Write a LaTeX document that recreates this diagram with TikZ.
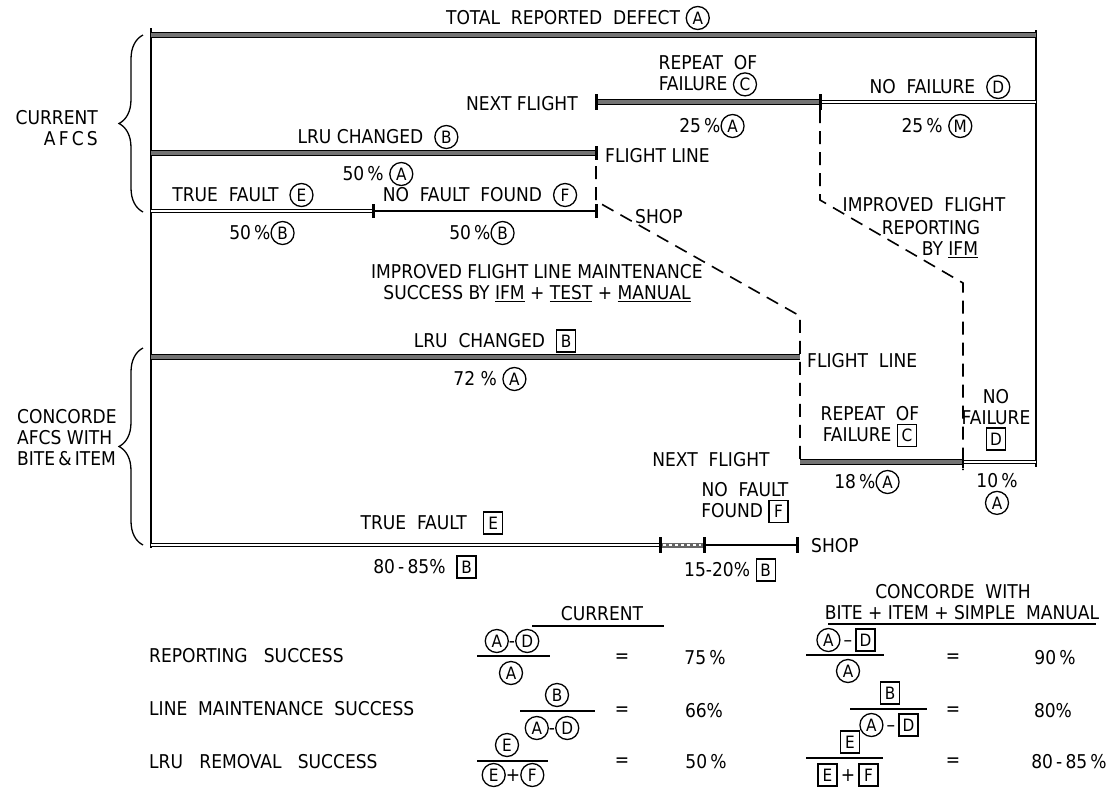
\documentclass[tikz,border=0pt]{standalone}
\usepackage{fontspec}
\setmainfont{DejaVu Sans Condensed}
\usetikzlibrary{decorations.pathreplacing}
\newcommand\cir[1]{\tikz[baseline=(X.base)]\node[draw,circle,line width=1.3pt,inner sep=0pt,minimum size=23pt,font=\fontsize{17}{17}\selectfont](X){#1};}
\newcommand\bx[1]{\tikz[baseline=(X.base)]\node[draw,rectangle,line width=1.3pt,inner sep=2pt,minimum height=22pt,minimum width=19pt,font=\fontsize{17}{17}\selectfont](X){#1};}
\tikzset{
  txt/.style={font=\fontsize{19}{21}\selectfont, inner sep=1pt, align=center},
  heavy/.style={draw=black, double=black!55, double distance=3.5pt, line width=1pt},
  hollow/.style={draw=black, double=white, double distance=2.5pt, line width=1.1pt},
  thinbar/.style={line width=1.3pt},
  tick/.style={line width=3pt},
  dashline/.style={line width=1.6pt, dash pattern=on 13pt off 8pt},
  frame/.style={line width=1.6pt},
  fracbar/.style={line width=1.3pt},
  bracestyle/.style={decorate,decoration={brace,amplitude=24pt,aspect=0.5},line width=1.3pt}
}
\begin{document}
\begin{tikzpicture}[x=1pt,y=-1pt]
\useasboundingbox (0,0) rectangle (1112,788);

% ---------- frame ----------
\coordinate (ftop) at (151,28);
\coordinate (fbot) at (151,548);
\coordinate (rtop) at (1036,30);
\coordinate (rbot) at (1036,467);
\draw[frame] (ftop) -- (fbot);
\draw[frame] (rtop) -- (rbot);

% ---------- top bar ----------
\node[txt] (total) at (578,18) {TOTAL~~REPORTED~~DEFECT~\cir{A}};
\coordinate (t1) at (151,35);
\coordinate (t2) at (1036,35);
\draw[heavy] (t1) -- (t2);

% ---------- current AFCS ----------
\draw[bracestyle] (143,212) -- (143,35);
\node[txt,align=right,anchor=east] (cur) at (99,128) {CURRENT\\A\,F\,C\,S};

\node[txt,anchor=east] (nf1) at (579,104) {NEXT~FLIGHT};
\node[txt] (rep1) at (708,76) {REPEAT~~OF\\FAILURE~\cir{C}};
\node[txt] (nof1) at (940,87) {NO~~FAILURE~~\cir{D}};
\coordinate (r1a) at (596,102);
\coordinate (r1b) at (820,102);
\coordinate (r1c) at (1036,102);
\draw[heavy] (r1a) -- (r1b);
\draw[hollow] (r1b) -- (r1c);
\draw[tick] (596,94) -- (596,110);
\draw[tick] (820,94) -- (820,110);
\node[txt] (p25a) at (712,126) {25\,\%\cir{A}};
\node[txt] (p25m) at (937,126) {25\,\%~\cir{M}};

\node[txt] (lru1) at (378,137) {LRU~CHANGED~~\cir{B}};
\coordinate (l1a) at (151,153);
\coordinate (l1b) at (596,153);
\draw[heavy] (l1a) -- (l1b);
\draw[tick] (596,146) -- (596,160);
\node[txt,anchor=west] (fl1) at (604,156) {FLIGHT~LINE};
\node[txt] (p50a) at (378,174) {50\,\%~\cir{A}};

\node[txt] (tf1) at (243,195) {TRUE~~FAULT~~\cir{E}};
\node[txt] (nff1) at (480,195) {NO~~FAULT~~FOUND~~\cir{F}};
\coordinate (e1a) at (151,211);
\coordinate (e1b) at (373,211);
\coordinate (e1c) at (596,211);
\draw[hollow] (e1a) -- (e1b);
\draw[thinbar] (e1b) -- (e1c);
\draw[tick] (373,204) -- (373,218);
\draw[tick] (596,204) -- (596,218);
\node[txt,anchor=west] (shop1) at (634,217) {SHOP};
\node[txt] (p50b1) at (262,233) {50\,\%\cir{B}};
\node[txt] (p50b2) at (482,233) {50\,\%\cir{B}};

% ---------- dashed transitions ----------
\coordinate (d1a) at (596,166);
\coordinate (d1b) at (596,201);
\coordinate (d1c) at (800,316);
\coordinate (d1d) at (800,462);
\draw[dashline] (d1a) -- (d1b) -- (d1c) -- (d1d);
\coordinate (d2a) at (820,110);
\coordinate (d2b) at (820,200);
\coordinate (d2c) at (963,283);
\coordinate (d2d) at (963,470);
\draw[dashline] (d2a) -- (d2b) -- (d2c) -- (d2d);

\node[txt] (ifr1) at (924,205) {IMPROVED~~FLIGHT};
\node[txt] (ifr2) at (931,228) {REPORTING};
\node[txt] (ifr3) at (950,250) {BY~\underline{IFM}};
\node[txt] (iflm) at (537,283) {IMPROVED~FLIGHT~LINE~MAINTENANCE\\SUCCESS~BY~\underline{IFM}~+~\underline{TEST}~+~\underline{MANUAL}};

% ---------- Concorde ----------
\draw[bracestyle] (143,545) -- (143,348);
\node[txt,align=left,anchor=west] (conc) at (16,438) {CONCORDE\\AFCS WITH\\BITE\,\&\,ITEM};

\node[txt] (lru2) at (495,341) {LRU~~CHANGED~~\bx{B}};
\coordinate (l2a) at (151,357);
\coordinate (l2b) at (800,357);
\draw[heavy] (l2a) -- (l2b);
\node[txt,anchor=west] (fl2) at (806,361) {FLIGHT~~LINE};
\node[txt] (p72) at (490,379) {72~\%~\cir{A}};

\node[txt] (rep2) at (870,427) {REPEAT~~OF\\FAILURE~\bx{C}};
\node[txt] (nof2) at (996,420) {NO\\FAILURE\\\bx{D}};
\node[txt] (nf2) at (711,460) {NEXT~~FLIGHT};
\coordinate (r2a) at (800,462);
\coordinate (r2b) at (963,462);
\coordinate (r2c) at (1036,462);
\draw[heavy] (r2a) -- (r2b);
\draw[hollow] (r2b) -- (r2c);
\draw[line width=2pt] (963,456) -- (963,468);
\node[txt] (p18) at (867,482) {18\,\%\cir{A}};
\node[txt] (p10) at (997,494) {10\,\%\\[1pt]\cir{A}};

\node[txt] (nff2) at (745,503) {NO~~FAULT\\FOUND~\bx{F}};
\node[txt] (tf2) at (432,523) {TRUE~~FAULT~~~\bx{E}};
\coordinate (e2a) at (151,545);
\coordinate (e2b) at (660,545);
\coordinate (e2c) at (704,545);
\coordinate (e2d) at (797,545);
\draw[hollow] (e2a) -- (e2b);
\draw[line width=5pt,black!60] (e2b) -- (e2c);
\draw[line width=1.2pt,white,dash pattern=on 3pt off 3pt] (663,545) -- (701,545);
\draw[thinbar] (e2c) -- (e2d);
\draw[tick] (660,537) -- (660,553);
\draw[tick] (704,537) -- (704,553);
\draw[tick] (797,537) -- (797,553);
\node[txt,anchor=west] (shop2) at (810,546) {SHOP};
\node[txt] (p80) at (425,567) {80\,-\,85\%~~\bx{B}};
\node[txt] (p15) at (730,570) {15-20\%~\bx{B}};

% ---------- table ----------
\node[txt] (hcur) at (602,614) {CURRENT};
\coordinate (hc1) at (532,626);
\coordinate (hc2) at (664,626);
\draw[line width=1.2pt] (hc1) -- (hc2);
\node[txt] (hcon1) at (953,592) {CONCORDE~~WITH};
\node[txt] (hcon2) at (962,613) {BITE~+~ITEM~+~SIMPLE~~MANUAL};
\coordinate (hk1) at (828,624);
\coordinate (hk2) at (1096,624);
\draw[line width=1.2pt] (hk1) -- (hk2);

\node[txt,anchor=west] (row1) at (148,656) {REPORTING~~~SUCCESS};
\node[txt,anchor=west] (row2) at (148,709) {LINE~~MAINTENANCE~~SUCCESS};
\node[txt,anchor=west] (row3) at (148,762) {LRU~~~REMOVAL~~~SUCCESS};

% current fractions
\node[txt] (c1n) at (512,641) {\cir{A}-\cir{D}};
\coordinate (c1l) at (477,656); \coordinate (c1r) at (550,656);
\draw[fracbar] (c1l) -- (c1r);
\node[txt] (c1d) at (511,673) {\cir{A}};
\node[txt] (c2n) at (557,695) {\cir{B}};
\coordinate (c2l) at (520,711); \coordinate (c2r) at (595,711);
\draw[fracbar] (c2l) -- (c2r);
\node[txt] (c2d) at (552,728) {\cir{A}-\cir{D}};
\node[txt] (c3n) at (507,745) {\cir{E}};
\coordinate (c3l) at (477,761); \coordinate (c3r) at (548,761);
\draw[fracbar] (c3l) -- (c3r);
\node[txt] (c3d) at (513,775) {\cir{E}+\cir{F}};
\node[txt] (ce1) at (622,658) {=};
\node[txt] (ce2) at (622,711) {=};
\node[txt] (ce3) at (622,762) {=};
\node[txt] (cv1) at (705,658) {75\,\%};
\node[txt] (cv2) at (704,711) {66\%};
\node[txt] (cv3) at (706,762) {50\,\%};

% concorde fractions
\node[txt] (k1n) at (846,640) {\cir{A}\,--\,\bx{D}};
\coordinate (k1l) at (806,655); \coordinate (k1r) at (884,655);
\draw[fracbar] (k1l) -- (k1r);
\node[txt] (k1d) at (848,671) {\cir{A}};
\node[txt] (k2n) at (890,693) {\bx{B}};
\coordinate (k2l) at (850,709); \coordinate (k2r) at (927,709);
\draw[fracbar] (k2l) -- (k2r);
\node[txt] (k2d) at (889,725) {\cir{A}\,--\,\bx{D}};
\node[txt] (k3n) at (850,742) {\bx{E}};
\coordinate (k3l) at (806,758); \coordinate (k3r) at (883,758);
\draw[fracbar] (k3l) -- (k3r);
\node[txt] (k3d) at (848,775) {\bx{E}\,+\,\bx{F}};
\node[txt] (ke1) at (953,658) {=};
\node[txt] (ke2) at (953,711) {=};
\node[txt] (ke3) at (953,762) {=};
\node[txt] (kv1) at (1055,658) {90\,\%};
\node[txt] (kv2) at (1053,711) {80\%};
\node[txt] (kv3) at (1069,762) {80\,-\,85\,\%};
\end{tikzpicture}
\end{document}
